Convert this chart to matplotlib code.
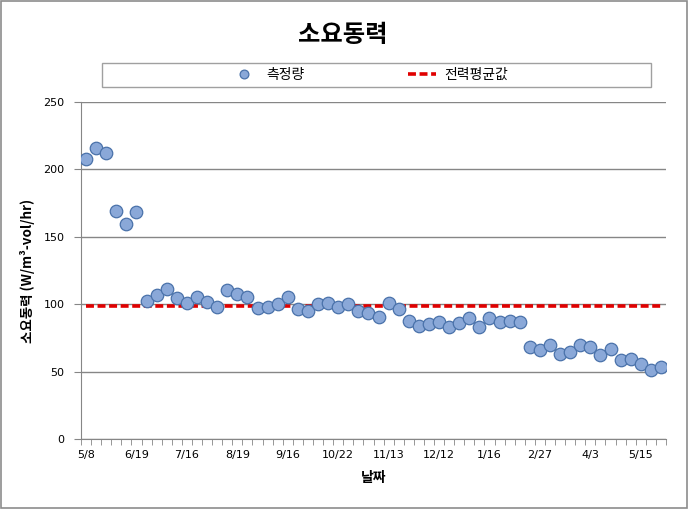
import matplotlib
matplotlib.use("Agg")
import matplotlib.pyplot as plt
from matplotlib.patches import Rectangle

# 측정 데이터
values = [207.5, 216, 212.5, 169.5, 159.5, 168.5,
          102.5, 106.5, 111, 104.5, 101, 105.5, 101.5, 98, 110.5, 107.5,
          105.5, 97.5, 98, 100.5, 105.5, 96.5, 95, 100, 101,
          98, 100, 95.2, 93.7, 90.7, 100.6, 96.7, 87.8, 84, 85,
          87, 82.8, 86.3, 89.5, 83.3, 90, 86.5, 87.8, 87,
          68.5, 66, 69.5, 63, 64.8, 70, 68.5, 62.5, 67, 58.5,
          59.5, 55.5, 51, 53.3]
avg_power = 98.5
tick_labels = ["5/8", "6/19", "7/16", "8/19", "9/16", "10/22",
               "11/13", "12/12", "1/16", "2/27", "4/3", "5/15"]
label_step = 5

plt.rcParams['font.family'] = ['DejaVu Sans']
kr = ['Noto Sans CJK KR', 'DejaVu Sans']

fig = plt.figure(figsize=(6.88, 5.09), dpi=100)
fig.patches.append(Rectangle((0.001, 0.001), 0.998, 0.997, transform=fig.transFigure,
                             fill=False, edgecolor='#8c8c8c', linewidth=1.2))

ax = fig.add_axes([81/688, 1-439/509, 585/688, 337/509])

x = list(range(len(values)))
pts, = ax.plot(x, values, linestyle='none', marker='o', markersize=9,
               markerfacecolor='#8aa8d8', markeredgecolor='#4a72aa',
               markeredgewidth=0.9, zorder=4, label='측정량')
avg, = ax.plot(x, [avg_power]*len(x), color='#e00000', linewidth=2.6,
               dashes=(2.2, 1.0), zorder=3, label='전력평균값')

ax.set_xlim(-0.5, len(values)-0.5)
ax.set_ylim(0, 250)
ax.set_yticks(range(0, 251, 50))
ax.yaxis.grid(True, color='#868686', linewidth=1)
ax.set_axisbelow(True)

ax.set_xticks(range(0, len(values), label_step))
ax.set_xticklabels(tick_labels, fontsize=8)
ax.set_xticks([i - 0.5 for i in range(len(values)+1)], minor=True)
ax.tick_params(axis='x', which='major', length=0, pad=8)
ax.tick_params(axis='x', which='minor', length=4, color='#868686')
ax.tick_params(axis='y', length=5, color='#868686', labelsize=8, pad=7)

for s in ['top', 'right']:
    ax.spines[s].set_visible(False)
for s in ['left', 'bottom']:
    ax.spines[s].set_color('#868686')

ax.set_ylabel('소요동력 (W/m³-vol/hr)', family=kr, fontsize=9.7, fontweight='bold', labelpad=6)
ax.set_xlabel('날짜', family=kr, fontsize=10, fontweight='bold', labelpad=8)

fig.text(343/688, 1-35/509, '소요동력', family=kr, fontsize=17.5, fontweight='bold',
         ha='center', va='center')

# 범례 박스
fig.patches.append(Rectangle((102/688, 1-87/509), 549/688, 24/509, transform=fig.transFigure,
                             fill=False, edgecolor='#a0a0a0', linewidth=1))
leg = fig.legend(handles=[pts, avg], loc='center', bbox_to_anchor=(369/688, 1-75/509),
                 ncol=2, frameon=False, columnspacing=7.5, handlelength=2.0,
                 handletextpad=0.6, markerscale=0.7, prop={'family': kr, 'size': 10})

fig.savefig('out.png', dpi=100)
